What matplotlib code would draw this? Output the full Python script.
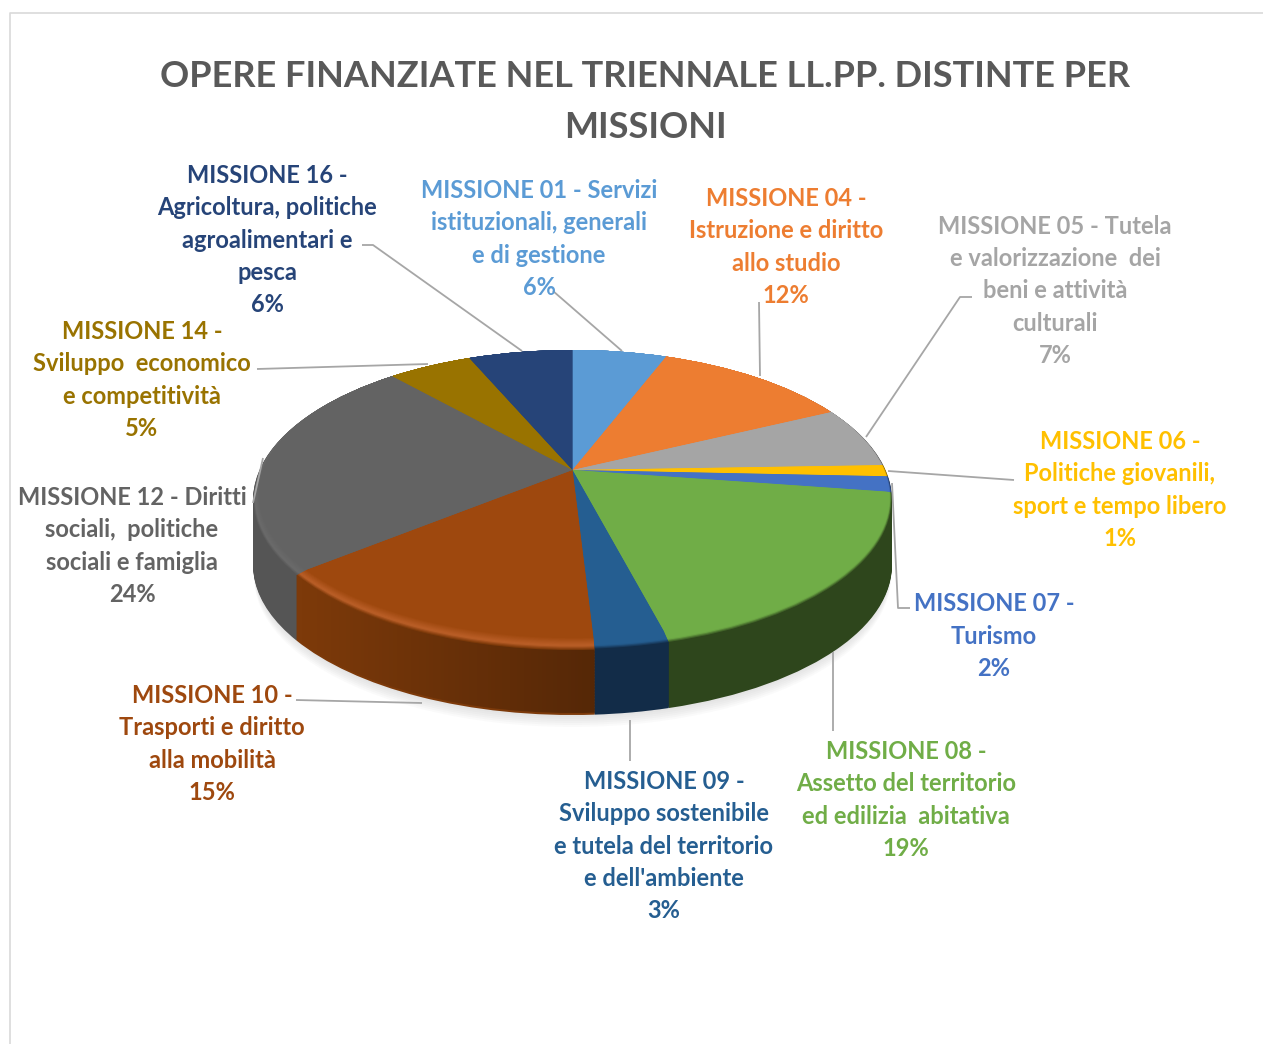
import numpy as np
import matplotlib
matplotlib.use('Agg')
import matplotlib.pyplot as plt
import matplotlib.transforms as mtransforms
from matplotlib.colors import to_rgb
from matplotlib.path import Path

plt.rcParams['font.family'] = ['Lato', 'DejaVu Sans']

title = 'OPERE FINANZIATE NEL TRIENNALE LL.PP. DISTINTE PER\nMISSIONI'

# slice shares, clockwise from 12 o'clock
values = [5.7, 12.0, 6.75, 1.25, 1.7, 18.6, 3.1, 14.9, 24.6, 5.1, 6.3]
shown_pct = ['6%', '12%', '7%', '1%', '2%', '19%', '3%', '15%', '24%', '5%', '6%']
labels = [
    'MISSIONE 01 - Servizi\nistituzionali, generali\ne di gestione',
    'MISSIONE 04 -\nIstruzione e diritto\nallo studio',
    'MISSIONE 05 - Tutela\ne valorizzazione  dei\nbeni e attività\nculturali',
    'MISSIONE 06 -\nPolitiche giovanili,\nsport e tempo libero',
    'MISSIONE 07 -\nTurismo',
    'MISSIONE 08 -\nAssetto del territorio\ned edilizia  abitativa',
    "MISSIONE 09 -\nSviluppo sostenibile\ne tutela del territorio\ne dell'ambiente",
    'MISSIONE 10 -\nTrasporti e diritto\nalla mobilità',
    'MISSIONE 12 - Diritti\nsociali,  politiche\nsociali e famiglia',
    'MISSIONE 14 -\nSviluppo  economico\ne competitività',
    'MISSIONE 16 -\nAgricoltura, politiche\nagroalimentari e\npesca',
]
colors = ['#5b9bd5', '#ed7d31', '#a5a5a5', '#ffc000', '#4472c4', '#70ad47',
          '#255e91', '#9e480e', '#636363', '#997300', '#264478']
side_colors = ['#2e4e6b', '#773e18', '#535353', '#806000', '#223962', '#2e461c',
               '#122c48', '#7d3a0a', '#555555', '#4d3a00', '#132239']
rim_colors = ['#5b9bd5', '#ed7d31', '#a5a5a5', '#ffc000', '#4472c4', '#70ad47',
              '#255e91', '#bb5f28', '#6b6b6b', '#997300', '#264478']

label_x = [539, 786, 1055, 1120, 994, 906, 664, 212, 132, 142, 267]
label_y = [239, 247, 291, 490, 636, 800, 846, 744, 546, 380, 240]

leaders = [
    [(553, 291), (622, 351)],
    [(759, 302), (760, 376)],
    [(972, 297), (960, 297), (866, 437)],
    [(1014, 480), (888, 471)],
    [(910, 608), (898, 608), (892, 483)],
    [(833, 652), (833, 731)],
    [(630, 720), (630, 761)],
    [(296, 700), (422, 703)],
    [(263, 458), (253, 503)],
    [(257, 369), (428, 364)],
    [(362, 245), (373, 245), (522, 351)],
]


class PieView(mtransforms.Transform):
    # unit circle seen in perspective, output in picture pixels
    input_dims = 2
    output_dims = 2
    is_separable = False
    has_inverse = False

    def __init__(self, k, s, r, dy=0.0):
        super().__init__()
        self.k, self.s, self.r, self.dy = k, s, r, dy

    def transform_non_affine(self, xy):
        xy = np.asarray(xy, dtype=float)
        w = 1 + self.k * xy[:, 1]
        return np.column_stack((572.5 + self.r * xy[:, 0] / w,
                                470 + self.dy - self.s * xy[:, 1] / w))


def draw_pie(ax, cols, view, zorder, alpha=None, vals=values):
    wedges, _ = ax.pie(vals, colors=cols, startangle=90, counterclock=False,
                       wedgeprops={'linewidth': 0, 'alpha': alpha})
    for w in wedges:
        w.set_transform(view + ax.transData)
        w.set_zorder(zorder)
    return wedges


def blend(c1, c2, t):
    return tuple((1 - t) * a + t * b for a, b in zip(to_rgb(c1), to_rgb(c2)))


fig = plt.figure(figsize=(12.63, 10.44), dpi=100)
ax = fig.add_axes([0, 0, 1, 1])

K0, S0, R0 = 0.2, 144.0, 313.0
K1, S1, R1 = 0.167, 140.0, 309.0

# soft shadow under the disc
for d in range(14, 0, -2):
    draw_pie(ax, ['#808080'], PieView(K0, S0, R0 - 1, 63 + d), 1, alpha=0.035, vals=[1])

# side wall
wall = []
for d in range(65, 0, -1):
    layer = draw_pie(ax, side_colors, PieView(K0, S0, R0, d), 2)
    if d % 3 == 0:
        wall.append(PieView(K0, S0, R0, d).transform_path(layer[7].get_path()))

# brown wall gets darker towards the front
shade = np.zeros((2, 200, 4))
shade[:, :, 3] = np.linspace(0, 0.32, 200)
im = ax.imshow(shade, extent=(298, 596, 740, 540), aspect='auto', zorder=3)
im.set_clip_path(Path.make_compound_path(*wall), transform=ax.transData)

# rounded rim, side colour -> highlight -> top colour
steps = 12
for i in range(steps):
    t = i / (steps - 1)
    if t < 0.3:
        cols = [blend(a, b, t / 0.3) for a, b in zip(side_colors, rim_colors)]
    else:
        cols = [blend(a, b, (t - 0.3) / 0.7) for a, b in zip(rim_colors, colors)]
    view = PieView(K0 + (K1 - K0) * t, S0 + (S1 - S0) * t, R0 + (R1 - R0) * t)
    draw_pie(ax, cols, view, 4)

for pts in leaders:
    xs, ys = zip(*pts)
    ax.plot(xs, ys, color='#a6a6a6', lw=1.3, zorder=5, solid_capstyle='butt')

# chart area border
ax.plot([10, 10, 1263], [1044, 13, 13], color='#d9d9d9', lw=1.2, zorder=1)

ax.text(645, 102, title, color='#595959', fontsize=26, fontweight='bold',
        ha='center', va='center', multialignment='center', linespacing=1.64)

for lab, pct, col, x, y in zip(labels, shown_pct, colors, label_x, label_y):
    ax.text(x, y, lab + '\n' + pct, color=col, fontsize=17, fontweight='bold',
            ha='center', va='center', multialignment='center', linespacing=1.49,
            zorder=6)

ax.set_aspect('auto')
ax.set_xlim(0, 1263)
ax.set_ylim(1044, 0)
ax.axis('off')

fig.savefig('out.png', dpi=100, facecolor='white')
